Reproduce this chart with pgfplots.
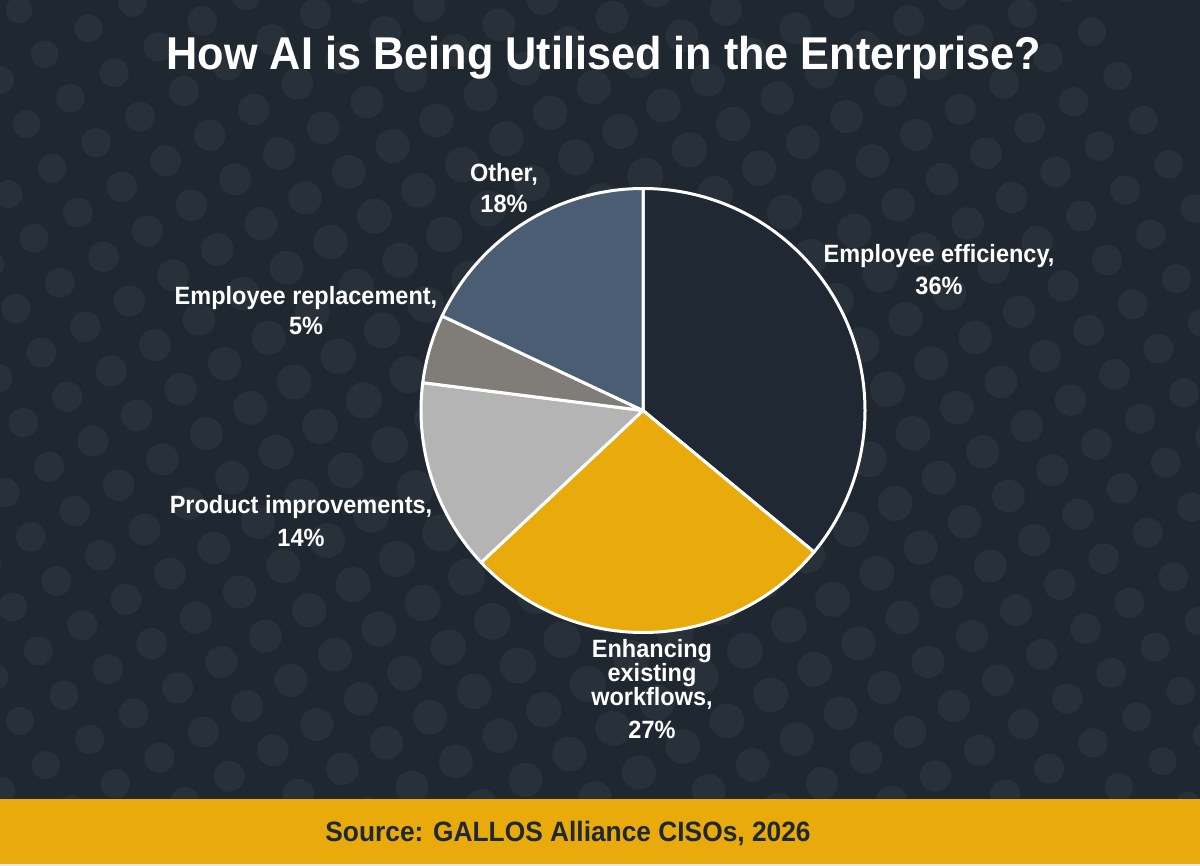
\documentclass[border=0pt]{standalone}
\usepackage{pgfplots}
\pgfplotsset{compat=1.18}
\usepackage{pgfplotstable}
\usepackage{fontspec}
\setmainfont{Liberation Sans}[FakeStretch=0.94]

\definecolor{bgnavy}{HTML}{1F2731}
\definecolor{dotnavy}{HTML}{283039}
\definecolor{effnavy}{HTML}{1F2833}
\definecolor{gold}{HTML}{E9AB0B}
\definecolor{silver}{HTML}{B4B4B4}
\definecolor{stone}{HTML}{807D78}
\definecolor{slate}{HTML}{4A5D72}
\definecolor{footline}{HTML}{E8E8E8}

% share of respondents (%) and slice colour, clockwise from 12 o'clock
\pgfplotstableread{
share colour
36 effnavy
27 gold
14 silver
5  stone
18 slate
}\usagedata

% start and end angle of every slice
\def\cumangle{90}
\pgfplotsforeachungrouped \k in {0,...,4}{%
  \pgfplotstablegetelem{\k}{share}\of\usagedata
  \pgfmathsetmacro{\nextangle}{\cumangle-3.6*\pgfplotsretval}%
  \expandafter\xdef\csname sliceFrom\k\endcsname{\cumangle}%
  \expandafter\xdef\csname sliceTo\k\endcsname{\nextangle}%
  \pgfplotstablegetelem{\k}{colour}\of\usagedata
  \edef\tmpcol{\pgfplotsretval}%
  \colorlet{slice\k}{\tmpcol}%
  \global\let\cumangle\nextangle
}

\begin{document}
\begin{tikzpicture}[
  lbl/.style={anchor=base, text=white, inner sep=0pt,
    font=\bfseries\fontsize{12.5}{15}\selectfont},
]
\useasboundingbox (0,0) rectangle (600pt,433pt);
\fill[bgnavy] (0,0) rectangle (600pt,433pt);

% dotted backdrop (dots shrink away from the middle) and source band
\begin{scope}[x=0.5pt,y=-0.5pt,shift={(0,433pt)}]
  \begin{scope}
    \clip (0,0) rectangle (1200,799);
    \foreach \i in {-9,...,18}{
      \foreach \j in {-8,...,23}{
        \pgfmathsetmacro\dx{19+69.6*\i+25.7*\j}
        \pgfmathsetmacro\dy{10+18.4*\i+44.2*\j}
        \pgfmathsetmacro\dr{max(12.5,20.5-0.01*veclen(\dx-600,\dy-433))}
        \fill[dotnavy] (\dx,\dy) circle[radius=\dr];
      }
    }
  \end{scope}
  \fill[gold] (0,799) rectangle (1200,866);
  \fill[footline] (0,864) rectangle (1200,866);
\end{scope}

\begin{axis}[
  at={(0,433pt)}, anchor=north west,
  x=0.5pt, y=0.5pt,
  xmin=0, xmax=1200, ymin=0, ymax=866,
  y dir=reverse,
  hide axis, clip=false,
]
\pgfplotsinvokeforeach{0,...,4}{
  \edef\slicepath{\noexpand\filldraw[fill=slice#1, draw=white, line width=1.5pt, line join=round]
    (axis cs:643,410.5) -- ++(\csname sliceFrom#1\endcsname:111pt)
    arc[start angle=\csname sliceFrom#1\endcsname, end angle=\csname sliceTo#1\endcsname, radius=111pt]
    -- cycle;}
  \slicepath
}

% slice labels
\node[lbl] at (axis cs:939,263) {Employee efficiency,};
\node[lbl] at (axis cs:939,295) {36\%};
\node[lbl] at (axis cs:652,657) {Enhancing};
\node[lbl] at (axis cs:652,681) {existing};
\node[lbl] at (axis cs:652,705) {workflows,};
\node[lbl] at (axis cs:652,738) {27\%};
\node[lbl] at (axis cs:301,514) {Product improvements,};
\node[lbl] at (axis cs:301,546) {14\%};
\node[lbl] at (axis cs:306,305) {Employee replacement,};
\node[lbl] at (axis cs:306,335) {5\%};
\node[lbl] at (axis cs:504,182) {Other,};
\node[lbl] at (axis cs:504,213) {18\%};

% title and source
\node[anchor=base, text=white, inner sep=0pt, font=\bfseries\fontsize{23}{27}\selectfont]
  at (axis cs:604,70) {How AI is Being Utilised in the Enterprise?};
\node[anchor=base, text=effnavy, inner sep=0pt, font=\bfseries\fontsize{14}{17}\selectfont]
  at (axis cs:568,841) {Source: GALLOS Alliance CISOs, 2026};
\end{axis}
\end{tikzpicture}
\end{document}
